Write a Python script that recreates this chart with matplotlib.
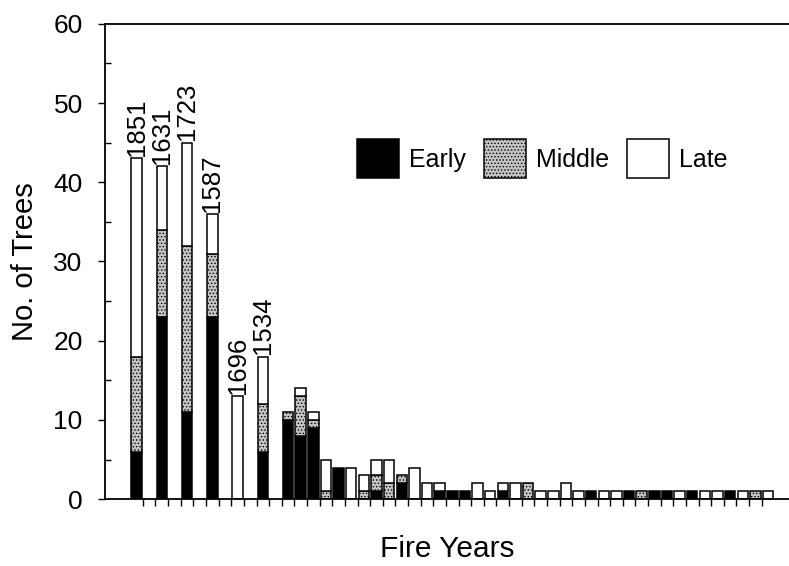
"""Fire years: number of trees scarred, split by season (early / middle / late)."""

import matplotlib
matplotlib.use("Agg")
import matplotlib.pyplot as plt
import numpy as np

plt.rcParams['font.family'] = ['Liberation Sans', 'DejaVu Sans']
plt.rcParams['hatch.linewidth'] = 0.6

# one entry per slot on the x axis (empty slots have zeros)
years = ['', '', '1851', '', '1631', '', '1723', '', '1587', '', '1696', '', '1534', '',
         '', '', '', '', '', '', '', '', '', '', '', '', '', '', '', '', '', '', '', '',
         '', '', '', '', '', '', '', '', '', '', '', '', '', '', '', '', '', '', '']
early = [0, 0, 6, 0, 23, 0, 11, 0, 23, 0, 0, 0, 6, 0,
         10, 8, 9, 0, 4, 0, 0, 1, 0, 2, 0, 0, 1, 1, 1, 0, 0, 1, 0, 0,
         0, 0, 0, 0, 1, 0, 0, 1, 0, 1, 1, 0, 1, 0, 0, 1, 0, 0, 0]
middle = [0, 0, 12, 0, 11, 0, 21, 0, 8, 0, 0, 0, 6, 0,
          1, 5, 1, 1, 0, 0, 1, 2, 2, 1, 0, 0, 0, 0, 0, 0, 0, 0, 0, 2,
          0, 0, 0, 0, 0, 0, 0, 0, 1, 0, 0, 0, 0, 0, 0, 0, 0, 1, 0]
late = [0, 0, 25, 0, 8, 0, 13, 0, 5, 0, 13, 0, 6, 0,
        0, 1, 1, 4, 0, 4, 2, 2, 3, 0, 4, 2, 1, 0, 0, 2, 1, 1, 2, 0,
        1, 1, 2, 1, 0, 1, 1, 0, 0, 0, 0, 1, 0, 1, 1, 0, 1, 0, 1]


def run():
    x = np.arange(len(years))
    e = np.array(early)
    m = np.array(middle)
    l = np.array(late)

    fig = plt.figure(figsize=(7.89, 5.66), dpi=100)
    ax = fig.add_axes([0.133, 0.118, 0.867, 0.84])

    w = 0.83
    kw = dict(width=w, edgecolor='black', linewidth=1.1)
    s = e > 0
    h1 = ax.bar(x[s], e[s], color='black', label='Early', **kw)
    s = m > 0
    h2 = ax.bar(x[s], m[s], bottom=e[s], color='#c4c4c4', hatch='.....',
                label='Middle', **kw)
    s = l > 0
    h3 = ax.bar(x[s], l[s], bottom=(e + m)[s], color='white', label='Late', **kw)

    # year labels above the big fire years
    tot = e + m + l
    for i, yr in enumerate(years):
        if yr:
            ax.text(x[i], tot[i] + 0.3, yr, rotation=90, ha='center', va='bottom',
                    fontsize=18.5)

    ax.set_ylim(0, 60)
    ax.set_xlim(-0.5, 53.66)
    ax.set_yticks(range(0, 61, 10))
    ax.set_yticks(range(5, 60, 10), minor=True)
    ax.set_xticks(np.arange(3, 53) - 0.5)
    ax.set_xticklabels([])
    ax.tick_params(axis='x', direction='out', length=5, width=1)
    ax.tick_params(axis='y', which='major', direction='out', length=5, width=1,
                   labelsize=19, pad=11)
    ax.tick_params(axis='y', which='minor', direction='in', length=4, width=1)

    ax.spines['right'].set_visible(False)
    for sp in ['left', 'bottom', 'top']:
        ax.spines[sp].set_linewidth(1.3)

    ax.set_ylabel("No. of Trees", fontsize=21, labelpad=10)
    ax.set_xlabel("Fire Years", fontsize=21.5, labelpad=17)

    ax.legend([h1, h2, h3], ['Early', 'Middle', 'Late'], ncol=3, frameon=False,
              fontsize=18, loc='center left', bbox_to_anchor=(0.368, 0.716),
              handlelength=1.7, handleheight=2.0, handletextpad=0.4,
              columnspacing=0.7, borderpad=0, borderaxespad=0)

    fig.savefig("out.png", dpi=100)


if __name__ == "__main__":
    run()
